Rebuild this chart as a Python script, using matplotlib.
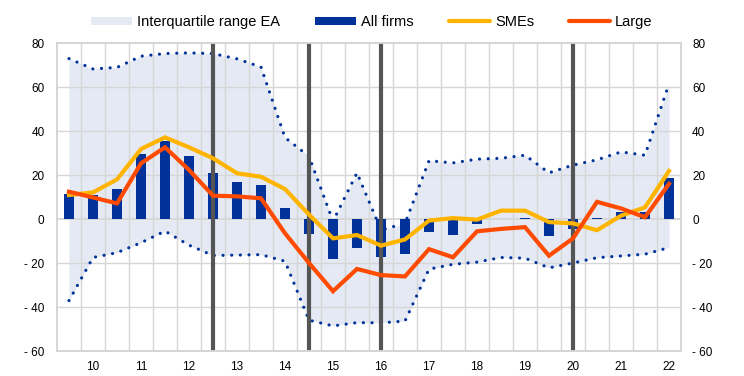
import numpy as np
import matplotlib
matplotlib.use('Agg')
import matplotlib.pyplot as plt
from matplotlib.patches import Patch
from matplotlib.lines import Line2D

plt.rcParams['font.family'] = ['Liberation Sans', 'DejaVu Sans']

# half-year survey rounds, labelled by year
year_labels = ['10', '11', '12', '13', '14', '15', '16', '17', '18', '19', '20', '21', '22']

# net percentages
all_firms = [11.2, 10.9, 13.6, 29.4, 35.5, 28.8, 20.8, 16.7, 15.5, 5.2, -6.9, -18.3, -13.2,
             -17.2, -15.7, -5.7, -7.2, -2.3, 0.0, 0.4, -7.7, -4.7, 0.3, 3.0, 3.2, 18.5]
smes = [10.9, 12.1, 18.0, 31.8, 37.1, 32.6, 27.6, 20.8, 19.2, 13.6, 2.0, -8.8, -7.3,
        -12.1, -9.3, -0.7, 0.4, -0.3, 3.8, 3.8, -1.4, -2.0, -5.1, 1.5, 5.3, 21.8]
large = [12.4, 9.8, 7.1, 25.3, 32.6, 22.3, 10.6, 10.3, 9.4, -6.5, -20.0, -32.8, -22.7,
         -25.5, -26.1, -13.7, -17.4, -5.6, -4.5, -3.7, -16.7, -8.8, 7.8, 4.8, 0.8, 16.0]

# interquartile range across euro area countries
iqr_upper = [72.9, 68.2, 68.9, 74.0, 75.2, 75.5, 75.2, 72.8, 69.1, 37.0, 28.5, -1.0, 21.0,
             -5.0, -2.0, 26.5, 25.5, 27.2, 27.6, 29.0, 21.0, 24.5, 26.9, 30.5, 29.0, 61.5]
iqr_lower = [-37.1, -17.5, -15.3, -10.8, -5.5, -11.9, -16.6, -16.4, -16.2, -19.2, -46.0, -48.6, -47.1,
             -47.2, -46.4, -22.8, -20.6, -19.6, -17.5, -17.8, -22.2, -20.0, -17.6, -16.8, -16.0, -13.0]

# rounds marked with a vertical bar
marker_rounds = [6, 10, 13, 21]

blue = '#003299'
yellow = '#FFB400'
red = '#FF4B00'
fill_col = '#E4E9F4'
grid_col = '#D6D6D6'

x = np.arange(len(all_firms))

fig = plt.figure(figsize=(7.44, 3.76), dpi=100)
ax = fig.add_axes([57/744, 25/376, 624/744, 308/376])

ax.fill_between(x, iqr_lower, iqr_upper, color=fill_col, lw=0, zorder=0.5)

#grid
for g in np.arange(0.5, len(x) - 1, 1):
    ax.axvline(g, color=grid_col, lw=1.0, zorder=1)
for g in range(-40, 80, 20):
    ax.axhline(g, color=grid_col, lw=1.3 if g == 0 else 1.0, zorder=1)

ax.bar(x, all_firms, width=0.39, color=blue, zorder=2)

dots = (0, (0.01, 2.7))
ax.plot(x, iqr_upper, color=blue, lw=2.3, ls=dots, dash_capstyle='round', zorder=3)
ax.plot(x, iqr_lower, color=blue, lw=2.3, ls=dots, dash_capstyle='round', zorder=3)

for r in marker_rounds:
    ax.axvline(r, color='#555555', lw=3.0, zorder=4)

ax.plot(x, smes, color=yellow, lw=3.0, zorder=5, solid_joinstyle='miter')
ax.plot(x, large, color=red, lw=3.0, zorder=5, solid_joinstyle='miter')

ax.set_xlim(-0.5, len(x) - 0.5)
ax.set_ylim(-60, 80)

yt = list(range(-60, 81, 20))
ylab = [('- ' + str(-v)) if v < 0 else str(v) for v in yt]
ax.set_yticks(yt)
ax.set_yticklabels(ylab)
ax.set_xticks(x[1::2])
ax.set_xticklabels(year_labels)
ax.tick_params(axis='both', length=0, labelsize=8.5)
ax.tick_params(axis='x', pad=7)
ax.tick_params(axis='y', pad=9)

ax2 = ax.twinx()
ax2.set_ylim(-60, 80)
ax2.set_yticks(yt)
ax2.set_yticklabels(ylab)
ax2.tick_params(axis='y', length=0, labelsize=8.5, pad=8)

for a in (ax, ax2):
    for s in a.spines.values():
        s.set_color(grid_col)
        s.set_linewidth(1.3)

handles = [Patch(facecolor=fill_col, edgecolor='none'),
           Patch(facecolor=blue, edgecolor='none'),
           Line2D([], [], color=yellow, lw=3.0, solid_capstyle='round'),
           Line2D([], [], color=red, lw=3.0, solid_capstyle='round')]
labels = ['Interquartile range EA', 'All firms', 'SMEs', 'Large']
fig.legend(handles, labels, loc='center', bbox_to_anchor=(0.5, 1 - 22/376), ncol=4,
           frameon=False, fontsize=10.5, handlelength=2.8, handleheight=0.5,
           handletextpad=0.35, columnspacing=2.4)

fig.savefig('out.png', dpi=100)
